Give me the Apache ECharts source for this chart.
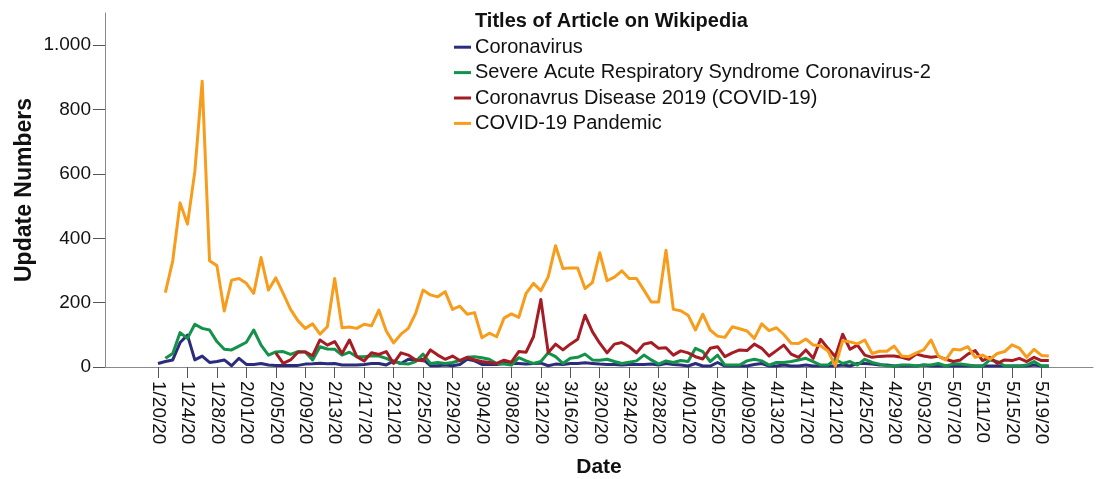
<!DOCTYPE html>
<html>
<head>
<meta charset="utf-8">
<script src="https://cdn.jsdelivr.net/npm/echarts@6/dist/echarts.min.js"></script>
<style>
  html, body { margin: 0; padding: 0; background: #fff; }
  #chart { width: 1096px; height: 479px; }
</style>
</head>
<body>
<div id="chart"></div>
<script>
// Dates of the daily observations (M/DD/YY)
const dates = [
  '1/20/20','1/21/20','1/22/20','1/23/20','1/24/20','1/25/20','1/26/20','1/27/20','1/28/20','1/29/20',
  '1/30/20','1/31/20','2/01/20','2/02/20','2/03/20','2/04/20','2/05/20','2/06/20','2/07/20','2/08/20',
  '2/09/20','2/10/20','2/11/20','2/12/20','2/13/20','2/14/20','2/15/20','2/16/20','2/17/20','2/18/20',
  '2/19/20','2/20/20','2/21/20','2/22/20','2/23/20','2/24/20','2/25/20','2/26/20','2/27/20','2/28/20',
  '2/29/20','3/01/20','3/02/20','3/03/20','3/04/20','3/05/20','3/06/20','3/07/20','3/08/20','3/09/20',
  '3/10/20','3/11/20','3/12/20','3/13/20','3/14/20','3/15/20','3/16/20','3/17/20','3/18/20','3/19/20',
  '3/20/20','3/21/20','3/22/20','3/23/20','3/24/20','3/25/20','3/26/20','3/27/20','3/28/20','3/29/20',
  '3/30/20','3/31/20','4/01/20','4/02/20','4/03/20','4/04/20','4/05/20','4/06/20','4/07/20','4/08/20',
  '4/09/20','4/10/20','4/11/20','4/12/20','4/13/20','4/14/20','4/15/20','4/16/20','4/17/20','4/18/20',
  '4/19/20','4/20/20','4/21/20','4/22/20','4/23/20','4/24/20','4/25/20','4/26/20','4/27/20','4/28/20',
  '4/29/20','4/30/20','5/01/20','5/02/20','5/03/20','5/04/20','5/05/20','5/06/20','5/07/20','5/08/20',
  '5/09/20','5/10/20','5/11/20','5/12/20','5/13/20','5/14/20','5/15/20','5/16/20','5/17/20','5/18/20',
  '5/19/20','5/20/20'
];

// Tick labels shown on the date axis
const tickLabels = [
  '1/20/20','1/24/20','1/28/20','2/01/20','2/05/20','2/09/20','2/13/20','2/17/20','2/21/20','2/25/20',
  '2/29/20','3/04/20','3/08/20','3/12/20','3/16/20','3/20/20','3/24/20','3/28/20','4/01/20','4/05/20',
  '4/09/20','4/13/20','4/17/20','4/21/20','4/25/20','4/29/20','5/03/20','5/07/20','5/11/20','5/15/20','5/19/20'
];

const yTicks = [0, 200, 400, 600, 800, 1000];

const seriesNames = [
  'Coronavirus',
  'Severe Acute Respiratory Syndrome Coronavirus-2',
  'Coronavrus Disease 2019 (COVID-19)',
  'COVID-19 Pandemic'
];

const coronavirus = [
  11,17,22,76,99,22,34,14,17,22,
  4,27,8,8,11,6,5,5,5,5,
  9,10,12,10,11,6,6,6,8,11,
  11,6,19,11,24,22,24,4,4,6,
  4,8,24,19,8,8,8,11,12,11,
  9,11,12,4,9,8,11,11,13,11,
  9,8,8,6,8,8,8,9,6,11,
  8,6,3,11,3,3,14,3,3,3,
  3,8,11,3,3,6,3,3,6,3,
  3,3,3,6,3,11,11,9,6,6,
  3,3,3,3,6,3,3,3,3,3,
  3,3,3,3,3,3,3,3,3,6,
  3,3
];

const sarsCov2 = [
  null,27,42,107,89,133,120,115,79,55,
  53,65,77,115,68,37,47,48,39,48,
  47,22,63,56,55,37,46,32,32,35,
  34,27,17,11,9,17,40,11,14,11,
  14,20,30,32,29,24,11,9,6,29,
  19,11,17,44,32,11,27,30,40,22,
  21,24,17,11,15,19,37,22,9,19,
  14,20,17,58,48,17,37,6,6,6,
  19,24,19,6,14,14,17,22,27,17,
  6,6,24,11,17,6,24,14,9,3,
  3,6,6,3,6,6,11,3,9,9,
  6,3,3,22,17,3,3,3,6,17,
  3,3
];

const covid19 = [
  null,null,null,null,null,null,null,null,null,null,
  null,null,null,null,null,null,44,11,22,46,
  47,35,84,68,79,42,84,32,19,44,
  39,48,11,44,37,22,19,53,37,24,
  34,20,30,22,17,14,11,21,15,48,
  46,94,210,45,71,53,71,86,161,110,
  74,44,71,76,63,44,71,76,58,60,
  37,50,44,32,25,58,63,32,44,53,
  51,71,58,34,51,68,40,30,53,27,
  86,58,32,102,55,68,37,30,33,34,
  34,30,24,40,34,30,33,24,17,22,
  40,51,20,30,11,22,20,27,17,30,
  20,20
];

const pandemic = [
  null,231,330,510,444,607,888,330,315,174,
  270,275,260,229,340,239,277,229,179,144,
  120,134,102,125,275,122,124,120,133,128,
  177,112,75,102,120,167,239,224,218,234,
  179,189,164,169,91,105,94,152,165,154,
  229,260,237,280,377,306,308,308,244,262,
  355,268,279,299,275,275,239,202,202,363,
  179,175,161,115,164,115,96,92,125,119,
  112,89,134,113,122,101,74,73,87,68,
  66,50,3,82,78,72,84,42,49,49,
  65,34,32,44,53,84,34,22,55,53,
  63,30,37,24,42,48,69,59,30,55,
  36,34
];

const colors = ['#2b2d7c', '#13924a', '#a51c24', '#f89c1c'];
const seriesValues = [coronavirus, sarsCov2, covid19, pandemic];

const FONT = '"Liberation Sans", Arial, sans-serif';
const tickIdx = tickLabels.map(t => dates.indexOf(t));

const chart = echarts.init(document.getElementById('chart'), null, { renderer: 'canvas' });

chart.setOption({
  animation: false,
  backgroundColor: '#fff',
  textStyle: { fontFamily: FONT },
  title: {
    text: 'Titles of Article on Wikipedia',
    left: 475,
    top: 11,
    padding: 0,
    textStyle: { fontFamily: FONT, fontSize: 20, fontWeight: 'bold', color: '#111' }
  },
  legend: {
    orient: 'vertical',
    left: 454,
    top: 37,
    padding: 0,
    itemGap: 5,
    itemWidth: 17,
    itemHeight: 3,
    icon: 'rect',
    selectedMode: false,
    data: seriesNames,
    textStyle: { fontFamily: FONT, fontSize: 20, color: '#111', lineHeight: 20.4, padding: [0, 0, 0, -1] }
  },
  grid: { left: 105, right: 3, top: 13, bottom: 112, containLabel: false, outerBoundsMode: 'none' },
  xAxis: {
    type: 'value',
    min: -7.2,
    max: 127,
    name: 'Date',
    nameLocation: 'middle',
    nameGap: 90,
    nameMoveOverlap: false,
    nameTextStyle: { fontFamily: FONT, fontSize: 21, fontWeight: 'bold', color: '#111' },
    axisLine: { show: true, onZero: false, lineStyle: { color: '#8a8a8a', width: 1 } },
    axisTick: { show: true, length: 11, customValues: tickIdx, lineStyle: { color: '#555', width: 1 } },
    axisLabel: {
      customValues: tickIdx,
      rotate: -90,
      margin: 14,
      fontFamily: FONT,
      fontSize: 19,
      color: '#111',
      formatter: v => dates[Math.round(v)] || ''
    },
    splitLine: { show: false }
  },
  yAxis: {
    type: 'value',
    min: 0,
    max: 1100,
    name: 'Update Numbers',
    nameLocation: 'middle',
    nameGap: 69,
    nameMoveOverlap: false,
    nameTextStyle: { fontFamily: FONT, fontSize: 23, fontWeight: 'bold', color: '#111' },
    axisLine: { show: true, onZero: false, lineStyle: { color: '#8a8a8a', width: 1 } },
    axisTick: { show: true, length: 12, customValues: yTicks, lineStyle: { color: '#555', width: 1 } },
    axisLabel: {
      customValues: yTicks,
      margin: 14,
      fontFamily: FONT,
      fontSize: 19,
      color: '#111',
      formatter: v => v >= 1000 ? Math.floor(v / 1000) + '.' + String(v % 1000).padStart(3, '0') : String(v)
    },
    splitLine: { show: false }
  },
  series: seriesNames.map((name, k) => ({
    name: name,
    type: 'line',
    data: seriesValues[k].map((v, i) => [i, v]),
    showSymbol: false,
    symbol: 'none',
    connectNulls: false,
    lineStyle: { color: colors[k], width: 3, join: 'round' },
    itemStyle: { color: colors[k] },
    z: 2 + k
  }))
});
</script>
</body>
</html>
